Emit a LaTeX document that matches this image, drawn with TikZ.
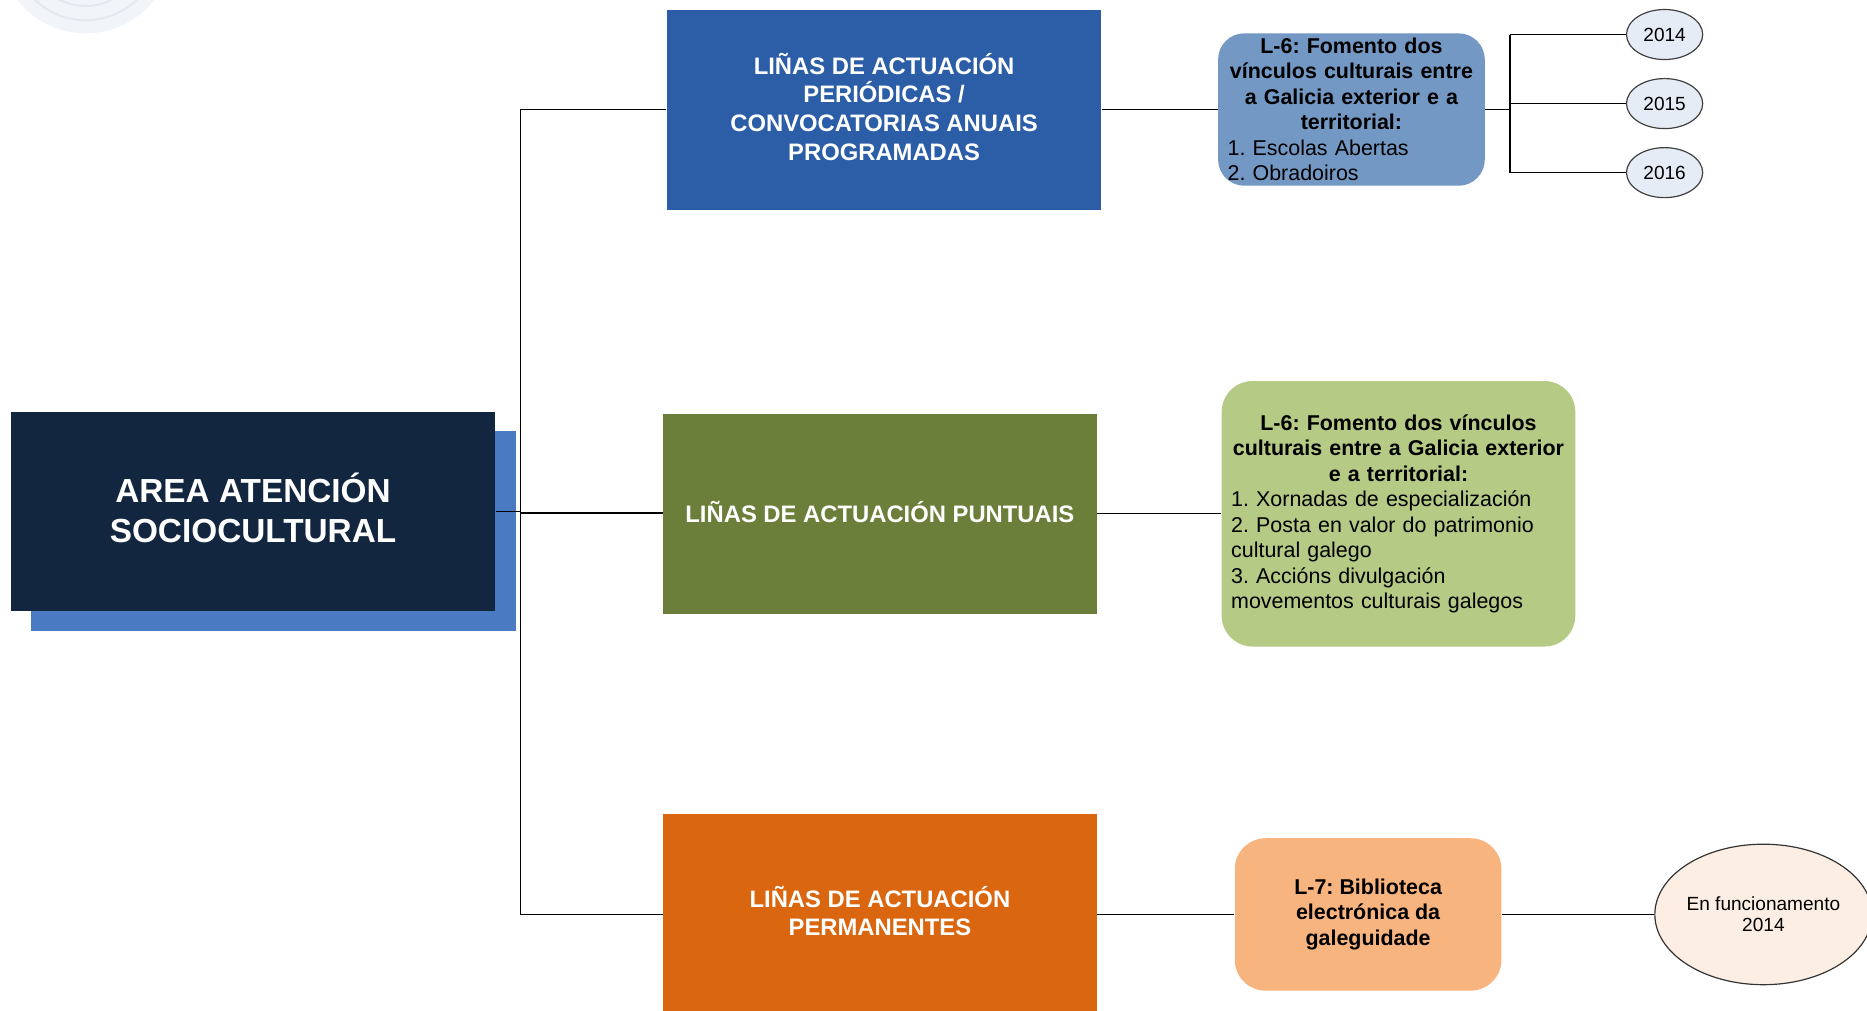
\documentclass[tikz,border=0pt]{standalone}
\usepackage{fontspec}
\setmainfont{Liberation Sans}
\usetikzlibrary{shapes.geometric}
\definecolor{navy}{HTML}{13263F}
\definecolor{shadowblue}{HTML}{4A7AC2}
\definecolor{boxblue}{HTML}{2B5EA7}
\definecolor{boxgreen}{HTML}{6B7F3A}
\definecolor{boxorange}{HTML}{DA670F}
\definecolor{rblue}{HTML}{7398C4}
\definecolor{rgreen}{HTML}{B4CA85}
\definecolor{rpeach}{HTML}{F8B47F}
\definecolor{elblue}{HTML}{E6ECF6}
\definecolor{elpeach}{HTML}{FDEEE3}
\definecolor{wmark}{HTML}{F1F4F9}
\definecolor{wmarkline}{HTML}{E3E8F1}
\frenchspacing
\begin{document}
\begin{tikzpicture}[x=0.5pt,y=-0.5pt,
  sqbox/.style={rectangle, draw=none, inner sep=0pt, text=white, align=center,
    font=\fontsize{10}{12}\selectfont\bfseries},
  rbox/.style={rectangle, rounded corners=11pt, draw=none, inner xsep=4pt, inner ysep=0pt,
    text=black, font=\fontsize{9}{10.7}\selectfont},
  yearel/.style={ellipse, draw=black!75, line width=0.5pt, fill=elblue, inner sep=0pt,
    minimum width=32pt, minimum height=21pt, font=\fontsize{8}{9}\selectfont},
  conn/.style={draw=black, line width=0.6pt}]
\clip (0,0) rectangle (1568,849);
\fill[white] (0,0) rectangle (1568,849);
% faint watermark
\fill[wmark] (72,-45) circle (73);
\draw[wmarkline, line width=0.8pt] (72,-45) circle (62);
\draw[wmarkline, line width=0.8pt] (72,-45) circle (50);

% main box with shadow
\node[sqbox, fill=shadowblue, minimum width=203.5pt, minimum height=84pt] (shadow) at (229.5,446) {};
\node[sqbox, fill=navy, minimum width=203.5pt, minimum height=83.5pt,
  font=\fontsize{14}{16.5}\selectfont\bfseries] (main) at (212.5,429.5)
  {AREA ATENCIÓN\\SOCIOCULTURAL\\[-13.5pt]};

% category boxes
\node[sqbox, fill=boxblue, minimum width=182.5pt, minimum height=84pt] (b1) at (742.5,92)
  {LIÑAS DE ACTUACIÓN\\PERIÓDICAS /\\CONVOCATORIAS ANUAIS\\PROGRAMADAS\\[-9.5pt]};
\node[sqbox, fill=boxgreen, minimum width=182pt, minimum height=84pt] (b2) at (739,432)
  {LIÑAS DE ACTUACIÓN PUNTUAIS\\[-10pt]};
\node[sqbox, fill=boxorange, minimum width=182pt, minimum height=84pt] (b3) at (739,768)
  {LIÑAS DE ACTUACIÓN\\PERMANENTES\\[-9pt]};

% right rounded boxes
\node[rbox, fill=rblue, minimum width=112pt, minimum height=64pt, text width=104pt] (r1) at (1135,92)
  {\centering\bfseries L-6: Fomento dos\\vínculos culturais entre\\a Galicia exterior e a\\territorial:\par
   \raggedright\mdseries 1. Escolas Abertas\\2. Obradoiros\par};
\node[rbox, fill=rgreen, rounded corners=13pt, minimum width=148.5pt, minimum height=111.5pt, text width=140.5pt] (r2) at (1174.5,431.5)
  {\centering\bfseries L-6: Fomento dos vínculos\\culturais entre a Galicia exterior\\e a territorial:\par
   \raggedright\mdseries 1. Xornadas de especialización\\2. Posta en valor do patrimonio\\cultural galego\\3. Accións divulgación\\movementos culturais galegos\par};
\node[rbox, fill=rpeach, rounded corners=13pt, minimum width=112pt, minimum height=64pt, align=center,
  font=\fontsize{9}{10.75}\selectfont\bfseries] (r3) at (1149,768)
  {L-7: Biblioteca\\electrónica da\\galeguidade};

% ellipses
\node[yearel] (e14) at (1398,29) {2014};
\node[yearel] (e15) at (1398,87) {2015};
\node[yearel] (e16) at (1398,145) {2016};
\node[ellipse, draw=black!80, line width=0.5pt, fill=elpeach, inner sep=0pt,
  minimum width=86pt, minimum height=59pt, align=center, font=\fontsize{8}{9}\selectfont] (ef) at (1481,768)
  {En funcionamento\\2014};

% connectors
\coordinate (j1) at (437,92);
\coordinate (j2) at (437,431);
\coordinate (j3) at (437,768);
\draw[conn] (j1) -- (j3);
\draw[conn] (main.east) -- (j2 |- main.east);
\draw[conn] (j2) -- (b2.west |- j2);
\draw[conn] (j1) -- (b1.west);
\draw[conn] (j3) -- (b3.west);
\draw[conn] (b1.east) -- (r1.west);
\draw[conn] (b2.east |- r2.west) -- (r2.west);
\draw[conn] (b3.east) -- (r3.west);
\draw[conn] (r3.east) -- (ef.west);
\coordinate (k1) at (1268,29);
\coordinate (k3) at (1268,145);
\draw[conn] (r1.east) -- (k1 |- r1.east);
\draw[conn] (k1) -- (k3);
\draw[conn] (k1) -- (e14.west);
\draw[conn] (k1 |- e15.west) -- (e15.west);
\draw[conn] (k3) -- (e16.west);
\end{tikzpicture}
\end{document}
